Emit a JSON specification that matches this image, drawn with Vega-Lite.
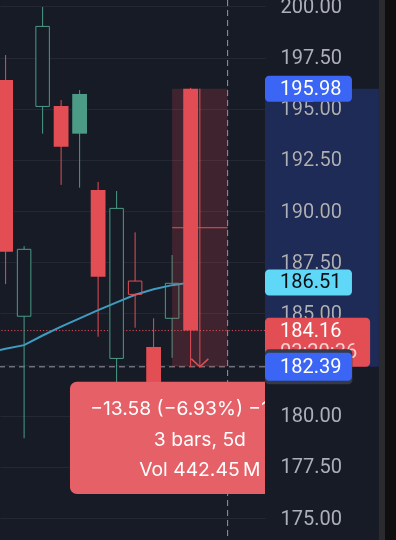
{
  "$schema": "https://vega.github.io/schema/vega-lite/v6.json",
  "width": 265,
  "height": 540,
  "autosize": {"type": "none"},
  "padding": {"left": 0, "top": 0, "right": 131, "bottom": 0},
  "background": "#171b26",
  "config": {"view": {"stroke": null}, "font": "Inter"},
  "resolve": {"axis": {"y": "independent"}},
  "datasets": {
    "candles": [
      {"i": 0, "o": 196.40, "h": 197.62, "l": 186.43, "c": 188.01, "trend": "down"},
      {"i": 1, "o": 184.86, "h": 188.29, "l": 178.90, "c": 188.13, "trend": "up"},
      {"i": 2, "o": 195.11, "h": 199.97, "l": 193.78, "c": 199.02, "trend": "up"},
      {"i": 3, "o": 195.13, "h": 195.42, "l": 191.28, "c": 193.14, "trend": "down"},
      {"i": 4, "o": 195.72, "h": 195.91, "l": 191.14, "c": 193.78, "trend": "up"},
      {"i": 5, "o": 191.03, "h": 191.42, "l": 183.86, "c": 186.79, "trend": "down"},
      {"i": 6, "o": 182.80, "h": 190.98, "l": 181.00, "c": 190.13, "trend": "up"},
      {"i": 7, "o": 185.93, "h": 188.96, "l": 184.30, "c": 186.58, "trend": "down"},
      {"i": 8, "o": 183.36, "h": 184.76, "l": 180.70, "c": 181.20, "trend": "down"},
      {"i": 9, "o": 184.76, "h": 187.85, "l": 182.83, "c": 186.47, "trend": "up"},
      {"i": 10, "o": 195.98, "h": 196.02, "l": 182.39, "c": 184.16, "trend": "down"}
    ],
    "ma": [
      {"i": -1, "ma": 183.09}, {"i": 0, "ma": 183.27}, {"i": 1, "ma": 183.45},
      {"i": 2, "ma": 183.92}, {"i": 3, "ma": 184.35}, {"i": 4, "ma": 184.76},
      {"i": 5, "ma": 185.16}, {"i": 6, "ma": 185.54}, {"i": 7, "ma": 185.91},
      {"i": 8, "ma": 186.18}, {"i": 9, "ma": 186.38}, {"i": 10, "ma": 186.51}
    ],
    "one": [{"k": 1}]
  },
  "layer": [
    {
      "data": {"name": "one"},
      "mark": {"type": "rect", "color": "#1f2b57", "blend": "lighten", "clip": false},
      "encoding": {
        "x": {"datum": 14.02, "type": "quantitative", "scale": {"domain": [-0.303, 14.02], "nice": false, "zero": false, "padding": 0}, "axis": null},
        "x2": {"datum": 20.18},
        "y": {"datum": 195.98, "type": "quantitative", "scale": {"domain": [173.93, 200.31], "nice": false, "zero": false, "padding": 0}, "axis": null},
        "y2": {"datum": 182.39}
      }
    },
    {
      "data": {"name": "one"},
      "mark": {"type": "rect", "color": "#2b2b2d", "clip": false},
      "encoding": {
        "x": {"datum": 20.18, "type": "quantitative", "scale": {"domain": [-0.303, 14.02], "nice": false, "zero": false, "padding": 0}, "axis": null},
        "x2": {"datum": 20.51},
        "y": {"datum": 201, "type": "quantitative", "scale": {"domain": [173.93, 200.31], "nice": false, "zero": false, "padding": 0}, "axis": null},
        "y2": {"datum": 173}
      }
    },
    {
      "data": {"name": "one"},
      "mark": {"type": "rect", "color": "#0f0f10", "clip": false},
      "encoding": {
        "x": {"datum": 20.51, "type": "quantitative", "scale": {"domain": [-0.303, 14.02], "nice": false, "zero": false, "padding": 0}, "axis": null},
        "x2": {"datum": 21.6},
        "y": {"datum": 201, "type": "quantitative", "scale": {"domain": [173.93, 200.31], "nice": false, "zero": false, "padding": 0}, "axis": null},
        "y2": {"datum": 173}
      }
    },
    {
      "data": {"name": "one"},
      "mark": {"type": "rule", "color": "#9598a1", "strokeDash": [6, 4], "strokeWidth": 1},
      "encoding": {
        "y": {"datum": 182.39, "type": "quantitative", "scale": {"domain": [173.93, 200.31], "nice": false, "zero": false, "padding": 0}, "axis": null}
      }
    },
    {
      "data": {"name": "one"},
      "mark": {"type": "rule", "color": "#9598a1", "strokeDash": [6, 4], "strokeWidth": 1},
      "encoding": {
        "x": {"datum": 12, "type": "quantitative", "scale": {"domain": [-0.303, 14.02], "nice": false, "zero": false, "padding": 0}, "axis": null}
      }
    },
    {
      "data": {"name": "one"},
      "mark": {"type": "rule", "color": "#e34d54", "strokeDash": [1.2, 2], "strokeWidth": 1},
      "encoding": {
        "y": {"datum": 184.16, "type": "quantitative", "scale": {"domain": [173.93, 200.31], "nice": false, "zero": false, "padding": 0}, "axis": null}
      }
    },
    {
      "data": {"name": "candles"},
      "mark": {"type": "rule", "strokeWidth": 1},
      "encoding": {
        "x": {"field": "i", "type": "quantitative", "scale": {"domain": [-0.303, 14.02], "nice": false, "zero": false, "padding": 0}, "axis": null},
        "y": {"field": "h", "type": "quantitative", "scale": {"domain": [173.93, 200.31], "nice": false, "zero": false, "padding": 0},
          "axis": {"orient": "right", "values": [175, 177.5, 180, 182.5, 185, 187.5, 190, 192.5, 195, 197.5, 200], "format": ".2f",
            "grid": true, "gridColor": "#242834", "gridWidth": 1, "domain": false, "ticks": false, "title": null,
            "labelPadding": 15, "labelAlign": "left", "labelBaseline": "middle", "labelColor": "#adb0b8", "labelFontSize": 20,
            "labelFont": "Roboto", "labelOverlap": false, "labelBound": false, "labelFlush": false}},
        "y2": {"field": "l"},
        "color": {"field": "trend", "type": "nominal", "scale": {"domain": ["up", "down"], "range": ["#4b9b86", "#e34d54"]}, "legend": null}
      }
    },
    {
      "data": {"name": "candles"},
      "transform": [{"filter": "datum.c > datum.o"}],
      "mark": {"type": "bar", "width": 13.5, "fill": "#171b26"},
      "encoding": {
        "x": {"field": "i", "type": "quantitative", "scale": {"domain": [-0.303, 14.02], "nice": false, "zero": false, "padding": 0}, "axis": null},
        "y": {"field": "o", "type": "quantitative", "scale": {"domain": [173.93, 200.31], "nice": false, "zero": false, "padding": 0}, "axis": null},
        "y2": {"field": "c"}
      }
    },
    {
      "data": {"name": "ma"},
      "mark": {"type": "line", "color": "#3f9cc1", "strokeWidth": 2},
      "encoding": {
        "x": {"field": "i", "type": "quantitative", "scale": {"domain": [-0.303, 14.02], "nice": false, "zero": false, "padding": 0}, "axis": null},
        "y": {"field": "ma", "type": "quantitative", "scale": {"domain": [173.93, 200.31], "nice": false, "zero": false, "padding": 0}, "axis": null}
      }
    },
    {
      "data": {"name": "candles"},
      "transform": [{"filter": "datum.c > datum.o"}],
      "mark": {"type": "bar", "width": 13.5, "fill": "transparent", "strokeWidth": 1},
      "encoding": {
        "x": {"field": "i", "type": "quantitative", "scale": {"domain": [-0.303, 14.02], "nice": false, "zero": false, "padding": 0}, "axis": null},
        "y": {"field": "o", "type": "quantitative", "scale": {"domain": [173.93, 200.31], "nice": false, "zero": false, "padding": 0}, "axis": null},
        "y2": {"field": "c"},
        "stroke": {"field": "trend", "type": "nominal", "scale": {"domain": ["up", "down"], "range": ["#4b9b86", "#e34d54"]}, "legend": null}
      }
    },
    {
      "data": {"name": "candles"},
      "transform": [{"filter": "datum.c <= datum.o"}],
      "mark": {"type": "bar", "width": 14.8},
      "encoding": {
        "x": {"field": "i", "type": "quantitative", "scale": {"domain": [-0.303, 14.02], "nice": false, "zero": false, "padding": 0}, "axis": null},
        "y": {"field": "o", "type": "quantitative", "scale": {"domain": [173.93, 200.31], "nice": false, "zero": false, "padding": 0}, "axis": null},
        "y2": {"field": "c"},
        "color": {"field": "trend", "type": "nominal", "scale": {"domain": ["up", "down"], "range": ["#4b9b86", "#e34d54"]}, "legend": null}
      }
    },
    {
      "data": {"name": "one"},
      "mark": {"type": "rect", "color": "#e34d54", "opacity": 0.2},
      "encoding": {
        "x": {"datum": 9, "type": "quantitative", "scale": {"domain": [-0.303, 14.02], "nice": false, "zero": false, "padding": 0}, "axis": null},
        "x2": {"datum": 12},
        "y": {"datum": 195.98, "type": "quantitative", "scale": {"domain": [173.93, 200.31], "nice": false, "zero": false, "padding": 0}, "axis": null},
        "y2": {"datum": 182.39}
      }
    },
    {
      "data": {"name": "one"},
      "mark": {"type": "rule", "color": "#e34d54", "strokeWidth": 1},
      "encoding": {
        "x": {"datum": 9, "type": "quantitative", "scale": {"domain": [-0.303, 14.02], "nice": false, "zero": false, "padding": 0}, "axis": null},
        "x2": {"datum": 12},
        "y": {"datum": 189.185, "type": "quantitative", "scale": {"domain": [173.93, 200.31], "nice": false, "zero": false, "padding": 0}, "axis": null}
      }
    },
    {
      "data": {"name": "one"},
      "mark": {"type": "rule", "color": "#e34d54", "strokeWidth": 1},
      "encoding": {
        "x": {"datum": 10.5, "type": "quantitative", "scale": {"domain": [-0.303, 14.02], "nice": false, "zero": false, "padding": 0}, "axis": null},
        "y": {"datum": 195.98, "type": "quantitative", "scale": {"domain": [173.93, 200.31], "nice": false, "zero": false, "padding": 0}, "axis": null},
        "y2": {"datum": 182.39}
      }
    },
    {
      "data": {"name": "one"},
      "mark": {"type": "point", "shape": "M-1,-0.94L0,0L1,-0.94", "size": 289, "filled": false, "color": "#e34d54", "strokeWidth": 1.5, "opacity": 1},
      "encoding": {
        "x": {"datum": 10.5, "type": "quantitative", "scale": {"domain": [-0.303, 14.02], "nice": false, "zero": false, "padding": 0}, "axis": null},
        "y": {"datum": 182.39, "type": "quantitative", "scale": {"domain": [173.93, 200.31], "nice": false, "zero": false, "padding": 0}, "axis": null}
      }
    },
    {
      "data": {"name": "one"},
      "mark": {"type": "rect", "color": "#e56167", "cornerRadius": 7, "clip": true},
      "encoding": {
        "x": {"datum": 3.48, "type": "quantitative", "scale": {"domain": [-0.303, 14.02], "nice": false, "zero": false, "padding": 0}, "axis": null},
        "x2": {"datum": 17.5},
        "y": {"datum": 181.66, "type": "quantitative", "scale": {"domain": [173.93, 200.31], "nice": false, "zero": false, "padding": 0}, "axis": null},
        "y2": {"datum": 176.18}
      }
    },
    {
      "data": {"name": "one"},
      "mark": {"type": "text", "color": "#ffffff", "fontSize": 19.3, "font": "Inter", "align": "center", "baseline": "middle", "clip": true, "text": "\u221213.58 (\u22126.93%) \u22121,358"},
      "encoding": {
        "x": {"datum": 10.5, "type": "quantitative", "scale": {"domain": [-0.303, 14.02], "nice": false, "zero": false, "padding": 0}, "axis": null},
        "y": {"datum": 180.33, "type": "quantitative", "scale": {"domain": [173.93, 200.31], "nice": false, "zero": false, "padding": 0}, "axis": null}
      }
    },
    {
      "data": {"name": "one"},
      "mark": {"type": "text", "color": "#ffffff", "fontSize": 19.3, "font": "Inter", "align": "center", "baseline": "middle", "clip": true, "text": "3 bars, 5d"},
      "encoding": {
        "x": {"datum": 10.5, "type": "quantitative", "scale": {"domain": [-0.303, 14.02], "nice": false, "zero": false, "padding": 0}, "axis": null},
        "y": {"datum": 178.81, "type": "quantitative", "scale": {"domain": [173.93, 200.31], "nice": false, "zero": false, "padding": 0}, "axis": null}
      }
    },
    {
      "data": {"name": "one"},
      "mark": {"type": "text", "color": "#ffffff", "fontSize": 19.3, "font": "Inter", "align": "center", "baseline": "middle", "clip": true, "text": "Vol 442.45\u2009M"},
      "encoding": {
        "x": {"datum": 10.5, "type": "quantitative", "scale": {"domain": [-0.303, 14.02], "nice": false, "zero": false, "padding": 0}, "axis": null},
        "y": {"datum": 177.35, "type": "quantitative", "scale": {"domain": [173.93, 200.31], "nice": false, "zero": false, "padding": 0}, "axis": null}
      }
    },
    {
      "data": {"name": "one"},
      "mark": {"type": "bar", "orient": "horizontal", "height": 26, "color": "#5fd8f7", "cornerRadiusEnd": 4, "clip": false},
      "encoding": {
        "x": {"datum": 14.02, "type": "quantitative", "scale": {"domain": [-0.303, 14.02], "nice": false, "zero": false, "padding": 0}, "axis": null},
        "x2": {"datum": 18.72},
        "y": {"datum": 186.51, "type": "quantitative", "scale": {"domain": [173.93, 200.31], "nice": false, "zero": false, "padding": 0}, "axis": null}
      }
    },
    {
      "data": {"name": "one"},
      "mark": {"type": "bar", "orient": "horizontal", "height": 49, "yOffset": 11.7, "color": "#e34d54", "cornerRadiusEnd": 4, "clip": false},
      "encoding": {
        "x": {"datum": 14.02, "type": "quantitative", "scale": {"domain": [-0.303, 14.02], "nice": false, "zero": false, "padding": 0}, "axis": null},
        "x2": {"datum": 19.7},
        "y": {"datum": 184.16, "type": "quantitative", "scale": {"domain": [173.93, 200.31], "nice": false, "zero": false, "padding": 0}, "axis": null}
      }
    },
    {
      "data": {"name": "one"},
      "mark": {"type": "text", "color": "#f6d2d4", "fontSize": 20, "font": "Roboto", "align": "left", "baseline": "middle", "dy": 21, "clip": false, "text": "03:20:36"},
      "encoding": {
        "x": {"datum": 14.83, "type": "quantitative", "scale": {"domain": [-0.303, 14.02], "nice": false, "zero": false, "padding": 0}, "axis": null},
        "y": {"datum": 184.16, "type": "quantitative", "scale": {"domain": [173.93, 200.31], "nice": false, "zero": false, "padding": 0}, "axis": null}
      }
    },
    {
      "data": {"name": "one"},
      "mark": {"type": "bar", "orient": "horizontal", "height": 35, "color": "#363a45", "cornerRadiusEnd": 4, "clip": false},
      "encoding": {
        "x": {"datum": 14.02, "type": "quantitative", "scale": {"domain": [-0.303, 14.02], "nice": false, "zero": false, "padding": 0}, "axis": null},
        "x2": {"datum": 18.74},
        "y": {"datum": 182.39, "type": "quantitative", "scale": {"domain": [173.93, 200.31], "nice": false, "zero": false, "padding": 0}, "axis": null}
      }
    },
    {
      "data": {"name": "one"},
      "mark": {"type": "bar", "orient": "horizontal", "height": 28, "color": "#3b65f5", "cornerRadiusEnd": 4, "clip": false},
      "encoding": {
        "x": {"datum": 14.02, "type": "quantitative", "scale": {"domain": [-0.303, 14.02], "nice": false, "zero": false, "padding": 0}, "axis": null},
        "x2": {"datum": 18.72},
        "y": {"datum": 182.39, "type": "quantitative", "scale": {"domain": [173.93, 200.31], "nice": false, "zero": false, "padding": 0}, "axis": null}
      }
    },
    {
      "data": {"name": "one"},
      "mark": {"type": "bar", "orient": "horizontal", "height": 26, "color": "#3b65f5", "cornerRadiusEnd": 4, "clip": false},
      "encoding": {
        "x": {"datum": 14.02, "type": "quantitative", "scale": {"domain": [-0.303, 14.02], "nice": false, "zero": false, "padding": 0}, "axis": null},
        "x2": {"datum": 18.72},
        "y": {"datum": 195.98, "type": "quantitative", "scale": {"domain": [173.93, 200.31], "nice": false, "zero": false, "padding": 0}, "axis": null}
      }
    },
    {
      "data": {"values": [
        {"price": 195.98, "label": "195.98"},
        {"price": 184.16, "label": "184.16"},
        {"price": 182.39, "label": "182.39"}
      ]},
      "mark": {"type": "text", "color": "#ffffff", "fontSize": 20, "font": "Roboto", "align": "left", "baseline": "middle", "clip": false},
      "encoding": {
        "x": {"datum": 14.83, "type": "quantitative", "scale": {"domain": [-0.303, 14.02], "nice": false, "zero": false, "padding": 0}, "axis": null},
        "y": {"field": "price", "type": "quantitative", "scale": {"domain": [173.93, 200.31], "nice": false, "zero": false, "padding": 0}, "axis": null},
        "text": {"field": "label"}
      }
    },
    {
      "data": {"values": [
        {"price": 186.51, "label": "186.51"}
      ]},
      "mark": {"type": "text", "color": "#0b0d12", "fontSize": 20, "font": "Roboto", "align": "left", "baseline": "middle", "clip": false},
      "encoding": {
        "x": {"datum": 14.83, "type": "quantitative", "scale": {"domain": [-0.303, 14.02], "nice": false, "zero": false, "padding": 0}, "axis": null},
        "y": {"field": "price", "type": "quantitative", "scale": {"domain": [173.93, 200.31], "nice": false, "zero": false, "padding": 0}, "axis": null},
        "text": {"field": "label"}
      }
    }
  ]
}
